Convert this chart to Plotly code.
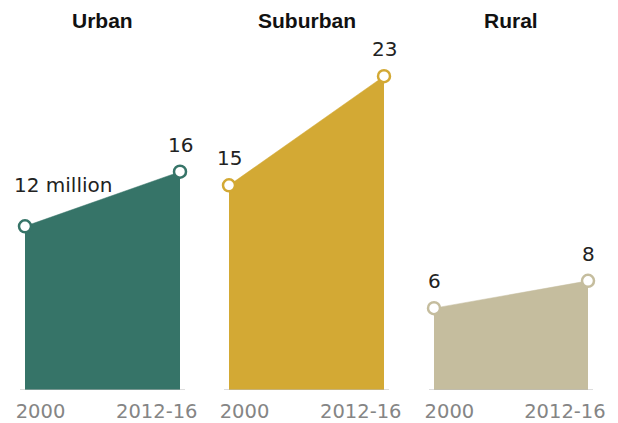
import plotly.graph_objects as go

panels = ["Urban", "Suburban", "Rural"]
periods = ["2000", "2012-16"]
urban = [12, 16]
suburban = [15, 23]
rural = [6, 8]
labels = [["12 million", "16"], ["15", "23"], ["6", "8"]]
colors = ["#367468", "#D3A934", "#C5BD9E"]

series = [urban, suburban, rural]

W, H = 618, 423
# pixel positions of the two points in each panel
px = [(25, 180), (229, 384), (434, 588)]
pad = 10
y_bottom, y_top = 390, 8  # pixel rows of value 0 and of range top

fig = go.Figure()
layout_axes = {}
shapes = []
annotations = []
for i, (name, vals, col) in enumerate(zip(panels, series, colors)):
    n = "" if i == 0 else str(i + 1)
    x0, x1 = px[i]
    span = x1 - x0
    xs = [0, 1]
    fig.add_trace(go.Scatter(
        x=xs, y=vals, mode="lines+markers",
        fill="tozeroy", fillcolor=col,
        line=dict(color=col, width=0.5),
        marker=dict(size=12, color="white", line=dict(color=col, width=2.5)),
        xaxis="x" + n, yaxis="y" + n, cliponaxis=False, hoverinfo="skip",
        showlegend=False,
    ))
    layout_axes["xaxis" + n] = dict(
        domain=[(x0 - pad) / W, (x1 + pad) / W],
        range=[-pad / span, 1 + pad / span],
        showgrid=False, zeroline=False, showline=False,
        tickvals=[0.1, 0.85], ticktext=periods,
        ticks="outside", ticklen=4, tickcolor="rgba(0,0,0,0)",
        tickfont=dict(family="DejaVu Sans", size=19.5, color="#858585"),
        anchor="y" + n, fixedrange=True, automargin=False,
    )
    layout_axes["yaxis" + n] = dict(
        domain=[1 - y_bottom / H, 1 - y_top / H],
        range=[0, 28], visible=False, anchor="x" + n, fixedrange=True,
        automargin=False,
    )
    shapes.append(dict(
        type="line", xref="x" + n, yref="y" + n,
        x0=-5 / span, x1=1 + 5 / span, y0=0, y1=0,
        line=dict(color="#BBBBBB", width=1), layer="above",
    ))
    # panel title
    annotations.append(dict(
        text="<b>%s</b>" % name, xref="x" + n, yref="paper",
        x=0.5, y=1 - 21 / H, yanchor="middle", xanchor="center",
        showarrow=False,
        font=dict(family="Liberation Sans, Arial", size=21, color="#111111"),
    ))
    # value labels
    for j in range(2):
        ann = dict(
            text=labels[i][j], xref="x" + n, yref="y" + n,
            x=xs[j], y=vals[j], showarrow=False, yanchor="middle",
            xanchor="center", yshift=27,
            font=dict(family="DejaVu Sans", size=20, color="#222222"),
        )
        if i == 0 and j == 0:
            ann.update(xanchor="left", xshift=-13, yshift=41)
        annotations.append(ann)

fig.update_layout(
    width=W, height=H,
    margin=dict(l=0, r=0, t=0, b=0, pad=0),
    paper_bgcolor="white", plot_bgcolor="white",
    shapes=shapes, annotations=annotations,
    **layout_axes,
)

fig.write_html(
    "out.html",
    config={"displayModeBar": False},
    post_script=(
        "document.body.style.margin='0';"
        "document.body.style.overflow='hidden';"
        "document.documentElement.style.overflow='hidden';"
    ),
)
